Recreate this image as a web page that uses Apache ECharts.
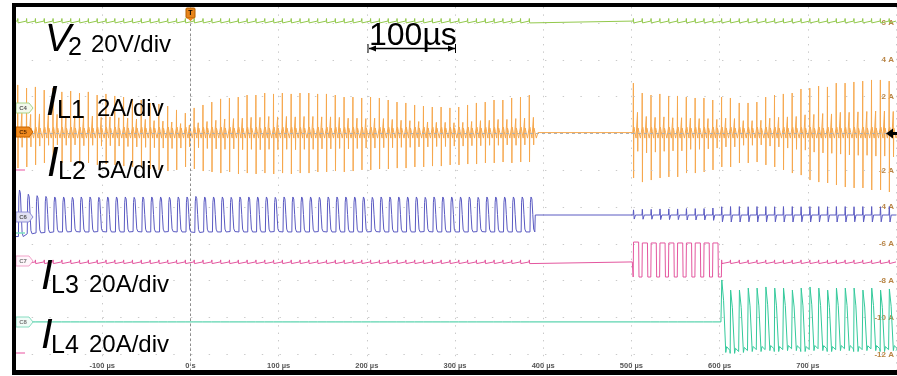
<!DOCTYPE html>
<html><head><meta charset="utf-8">
<script src="https://cdn.jsdelivr.net/npm/echarts@6/dist/echarts.min.js"></script>
<style>html,body{margin:0;padding:0;background:#fff}#c{width:897px;height:376px}</style>
</head><body><div id="c"></div>
<script>
// ---------------- data ----------------
const xTickValues = [-100, 0, 100, 200, 300, 400, 500, 600, 700];
const xTickLabels = ['-100 µs', '0 s', '100 µs', '200 µs', '300 µs', '400 µs', '500 µs', '600 µs', '700 µs'];
const yTickValues = [6, 4, 2, -2, -4, -6, -8, -10, -12];
const yTickLabels = ['6 A', '4 A', '2 A', '-2 A', '-4 A', '-6 A', '-8 A', '-10 A', '-12 A'];

const periodUs = 10;            // switching period
const burst1Start = -196;       // first switching cycle of burst 1 (µs)
const burst2Start = 502;        // first switching cycle of burst 2 (µs)
const il3Start = 502;           // IL3 pulses start
const il4Start = 602;           // IL4 sawtooth start

// trace offsets (in the scale of the displayed A axis)
const v2Level = 6.11;
const il2Level = -4.43;
const il3Level = -6.98;
const il4Level = -10.24;

// IL1 (orange) peak values per cycle
const il1Up1 = [2.64,2.47,2.53,2.36,2.47,2.26,2.31,2.20,2.26,2.09,2.15,2.04,1.98,1.88,1.82,1.66,1.60,1.49,1.28,1.11,
  1.39,1.55,1.71,1.88,1.93,1.98,2.09,2.09,2.20,2.15,2.20,2.15,2.20,2.20,2.15,2.15,2.09,1.98,1.98,1.93,
  1.98,1.93,1.82,1.71,1.66,1.55,1.49,1.44,1.44,1.39,1.44,1.55,1.66,1.71,1.82,1.82,1.93,1.98,2.09];
const il1Down1 = [-1.88,-1.82,-1.71,-1.60,-1.55,-1.60,-1.55,-1.66,-1.60,-1.71,-1.66,-1.71,-1.77,-1.82,-1.88,-1.93,-1.98,
  -2.04,-1.98,-1.82,-1.93,-2.04,-2.09,-2.15,-2.09,-2.20,-2.15,-2.20,-2.15,-2.20,-2.15,-2.20,
  -2.15,-2.15,-2.09,-2.09,-2.04,-2.09,-2.04,-1.98,-1.98,-1.93,-1.93,-1.88,-1.88,-1.82,-1.82,-1.77,-1.77,-1.71,
  -1.71,-1.66,-1.66,-1.60,-1.60,-1.55,-1.60,-1.55,-1.55];
const il1Up2 = [2.74,2.20,2.09,2.15,2.04,2.04,1.98,1.93,1.93,1.82,1.98,1.93,1.66,1.66,1.71,1.98,2.09,2.15,2.20,2.42,
  2.47,2.58,2.53,2.74,2.74,2.80,2.85,2.91,2.91,2.85];
const il1Down2 = [-2.42,-2.64,-2.53,-2.42,-2.36,-2.36,-2.15,-2.15,-2.09,-1.98,-1.82,-1.82,-1.60,-1.60,-1.55,-1.71,-1.82,
  -1.98,-2.15,-2.26,-2.53,-2.64,-2.69,-2.80,-2.91,-2.96,-2.96,-3.07,-3.07,-3.18];

// IL2 (blue) high / low per cycle in burst 1, ripple in burst 2
const il2High1 = [-3.07,-3.30,-3.38,-3.42,-3.45,-3.45,-3.47,-3.45,-3.45,-3.47,-3.45,-3.45,-3.45,-3.47,-3.45,-3.45,-3.45,-3.47,-3.45,-3.45,
  -3.42,-3.45,-3.45,-3.45,-3.47,-3.45,-3.45,-3.45,-3.45,-3.47,-3.45,-3.45,-3.45,-3.45,-3.47,-3.45,-3.45,-3.45,-3.45,-3.45,
  -3.47,-3.45,-3.45,-3.45,-3.45,-3.45,-3.47,-3.45,-3.45,-3.45,-3.45,-3.45,-3.47,-3.45,-3.45,-3.45,-3.45,-3.45,-3.45];
const il2Low1 = [-5.60,-5.45,-5.40,-5.38,-5.35,-5.35,-5.33,-5.35,-5.35,-5.33,-5.35,-5.35,-5.35,-5.33,-5.35,-5.35,-5.35,-5.33,-5.35,-5.35,
  -5.38,-5.35,-5.35,-5.35,-5.33,-5.35,-5.35,-5.35,-5.35,-5.33,-5.35,-5.35,-5.35,-5.35,-5.33,-5.35,-5.35,-5.35,-5.35,-5.35,
  -5.33,-5.35,-5.35,-5.35,-5.35,-5.35,-5.33,-5.35,-5.35,-5.35,-5.35,-5.35,-5.33,-5.35,-5.35,-5.35,-5.35,-5.35,-5.35];
const il2RipUp2 = [-4.15,-4.12,-4.12,-4.10,-4.10,-4.10,-4.08,-4.08,-4.08,-4.05,-3.98,-3.97,-3.97,-3.98,-3.97,-3.97,-3.98,-3.97,-3.97,-3.98,
  -3.97,-3.97,-3.98,-3.97,-3.97,-3.98,-3.97,-3.97,-3.98,-3.97];
const il2RipDn2 = [-4.65,-4.66,-4.66,-4.68,-4.68,-4.68,-4.70,-4.70,-4.70,-4.72,-4.80,-4.81,-4.81,-4.80,-4.81,-4.81,-4.80,-4.81,-4.81,-4.80,
  -4.81,-4.81,-4.80,-4.81,-4.81,-4.80,-4.81,-4.81,-4.80,-4.81];

// IL3 (pink) pulses
const il3High = [-5.90,-5.95,-5.95,-5.95,-5.95,-5.95,-5.95,-5.95,-5.95,-5.95];
const il3Low = [-7.80,-7.80,-7.80,-7.80,-7.80,-7.80,-7.80,-7.80,-7.80,-7.80];

// IL4 (teal) sawtooth
const il4High = [-7.96,-8.51,-8.51,-8.40,-8.40,-8.34,-8.40,-8.40,-8.51,-8.40,-8.34,-8.40,-8.51,-8.40,-8.40,-8.40,-8.51,-8.40,-8.51,-8.45];
const il4Low = [-11.90,-11.95,-11.90,-11.85,-11.85,-11.80,-11.85,-11.80,-11.80,-11.85,-11.80,-11.80,-11.85,-11.80,-11.80,-11.85,-11.80,-11.80,-11.85,-11.80];

// switching noise ticks on quiet traces [up, down]
const v2Tick = [0.14, -0.10];
const il3Tick = [0.11, -0.09];
const il4Tick = [0.09, -0.07];

// ---------------- building the traces ----------------
function cyclesIn(start, n) { const a = []; for (let k = 0; k < n; k++) a.push(start + k * periodUs); return a; }
const burst1Times = cyclesIn(burst1Start, il1Up1.length);
const burst2Times = cyclesIn(burst2Start, il1Up2.length);

function orangeCycle(out, t, u, d) {
  out.push([t, 0.3], [t + 0.25, u], [t + 0.5, d], [t + 0.8, 0.35], [t + 1.8, 0.1], [t + 3.3, -0.25], [t + 4.6, -0.35],
    [t + 4.9, 0.42 * u], [t + 5.2, 0.4 * d], [t + 5.5, 0.3], [t + 6.7, 0.05], [t + 8.2, -0.25], [t + 9.6, -0.35]);
}
function buildIL1() {
  const out = [[-200, -0.2]];
  burst1Times.forEach((t, k) => orangeCycle(out, t, il1Up1[k], il1Down1[k]));
  out.push([burst1Times[burst1Times.length - 1] + periodUs, 0.05], [burst2Start - 0.5, 0.05]);
  burst2Times.forEach((t, k) => orangeCycle(out, t, il1Up2[k], il1Down2[k]));
  out.push([800, 0]);
  return out;
}
function buildIL2() {
  const out = [[-200, il2Low1[0]]];
  burst1Times.forEach((t0, k) => {
    const t = t0 + 1, h = il2High1[k], l = il2Low1[k], a = h - l;
    out.push([t, l], [t + 0.5, l + 0.85 * a], [t + 1.2, h], [t + 2.2, h - 0.06 * a], [t + 3.2, l + 0.5 * a], [t + 4.2, l + 0.08 * a], [t + 5.5, l]);
  });
  const tEnd = burst1Times[burst1Times.length - 1] + 1 + 6;
  out.push([tEnd, il2Level]);
  burst2Times.forEach((t, k) => {
    out.push([t, il2Level], [t + 0.4, il2RipUp2[k]], [t + 1.2, il2RipDn2[k]], [t + 2.6, il2Level]);
  });
  out.push([800, il2Level]);
  return out;
}
function ticks(out, times, base, tick) {
  times.forEach(t => out.push([t, base], [t + 0.3, base + tick[0]], [t + 0.6, base + tick[1]], [t + 0.9, base]));
}
function buildV2() {
  const out = [[-200, v2Level]];
  ticks(out, burst1Times, v2Level, v2Tick);
  ticks(out, burst2Times, v2Level, v2Tick);
  out.push([800, v2Level]);
  return out;
}
function buildIL3() {
  const out = [[-200, il3Level]];
  ticks(out, burst1Times, il3Level, il3Tick);
  out.push([il3Start - 1, il3Level]);
  il3High.forEach((h, k) => {
    const t = il3Start + k * periodUs, l = il3Low[k];
    out.push([t, l], [t + 0.4, h], [t + 6.2, h], [t + 6.6, l]);
  });
  out.push([il3Start + il3High.length * periodUs, il3Low[il3Low.length - 1]], [il3Start + il3High.length * periodUs + 0.3, il3Level]);
  ticks(out, burst2Times.filter(t => t >= il4Start), il3Level, il3Tick);
  out.push([800, il3Level]);
  return out;
}
function buildIL4() {
  const out = [[-200, il4Level]];
  ticks(out, burst1Times, il4Level, il4Tick);
  ticks(out, burst2Times.filter(t => t < il4Start), il4Level, il4Tick);
  out.push([il4Start - 0.5, il4Level]);
  il4High.forEach((h, k) => {
    const t = il4Start + k * periodUs, l = il4Low[k], a = h - l;
    if (k > 0) out.push([t, l]);
    out.push([t + 0.5, h], [t + 2.5, h - 0.28 * a], [t + 5, l], [t + 6, l + 0.08 * a], [t + 9.6, l + 0.03 * a]);
  });
  out.push([800, il4Low[il4Low.length - 1]]);
  return out;
}

// ---------------- layout ----------------
const G = { left: 14, top: 7, width: 883, bottom: 371, zeroY: 133.5, pxPerA: 18.4 };
const yMax = (G.zeroY - G.top) / G.pxPerA;
const yMin = -(G.bottom - G.zeroY) / G.pxPerA;

const FONT = '"Liberation Sans", Arial, sans-serif';
function txt(x, y, s, size, italic, extra) {
  return Object.assign({ type: 'text', x: x, y: y, z: 50,
    style: { text: s, font: (italic ? 'italic ' : '') + size + 'px ' + FONT, fill: '#000',
      align: 'left', verticalAlign: 'middle', textAlign: 'left', textVerticalAlign: 'middle' } }, extra || {});
}
function badge(y, label, fill, stroke, color) {
  return [{ type: 'polygon', z: 40, shape: { points: [[16, y - 5], [29, y - 5], [33, y], [29, y + 5], [16, y + 5]] },
    style: { fill: fill, stroke: stroke, lineWidth: 1 } },
  { type: 'text', z: 41, x: 23, y: y, style: { text: label, font: 'bold 6px ' + FONT, fill: color,
    align: 'center', verticalAlign: 'middle', textAlign: 'center', textVerticalAlign: 'middle' } }];
}

const graphics = [
  // frame
  { type: 'rect', z: 100, shape: { x: 12, y: 3, width: 4, height: 372 }, style: { fill: '#000' } },
  { type: 'rect', z: 100, shape: { x: 12, y: 3, width: 885, height: 4 }, style: { fill: '#000' } },
  { type: 'rect', z: 100, shape: { x: 12, y: 370, width: 885, height: 5 }, style: { fill: '#000' } },
  // trigger marker
  { type: 'rect', z: 60, shape: { x: 186, y: 8, width: 9, height: 10, r: 1 }, style: { fill: '#e8841a', stroke: '#b35f00' } },
  { type: 'polygon', z: 60, shape: { points: [[187, 18], [194, 18], [190.5, 21]] }, style: { fill: '#e8841a' } },
  { type: 'text', z: 61, x: 190.5, y: 13, style: { text: 'T', font: 'bold 7px ' + FONT, fill: '#000', align: 'center', verticalAlign: 'middle', textAlign: 'center', textVerticalAlign: 'middle' } },
  // right ground arrow
  { type: 'polygon', z: 60, shape: { points: [[886, 133.5], [893, 128.5], [893, 138.5]] }, style: { fill: '#000' } },
  { type: 'rect', z: 60, shape: { x: 892, y: 132, width: 5, height: 3 }, style: { fill: '#000' } },
  // left level markers
  { type: 'line', z: 40, shape: { x1: 16, y1: 170, x2: 25, y2: 170 }, style: { stroke: '#f08cc0', lineWidth: 1.5 } },
  { type: 'line', z: 40, shape: { x1: 16, y1: 233, x2: 25, y2: 233 }, style: { stroke: '#7fe0c0', lineWidth: 1.5 } },
  { type: 'line', z: 40, shape: { x1: 16, y1: 353, x2: 25, y2: 353 }, style: { stroke: '#f08cc0', lineWidth: 1.5 } },
  // time-scale annotation
  txt(369, 36, '100µs', 32, false),
  { type: 'line', z: 50, shape: { x1: 369, y1: 48.5, x2: 455, y2: 48.5 }, style: { stroke: '#000', lineWidth: 1.5 } },
  { type: 'line', z: 50, shape: { x1: 368, y1: 44, x2: 368, y2: 53 }, style: { stroke: '#000', lineWidth: 1 } },
  { type: 'line', z: 50, shape: { x1: 455.5, y1: 44, x2: 455.5, y2: 53 }, style: { stroke: '#000', lineWidth: 1 } },
  { type: 'polygon', z: 50, shape: { points: [[369, 48.5], [376, 45.5], [376, 51.5]] }, style: { fill: '#000' } },
  { type: 'polygon', z: 50, shape: { points: [[455, 48.5], [448, 45.5], [448, 51.5]] }, style: { fill: '#000' } },
  // channel labels
  txt(45, 40, 'V', 39, true), txt(68, 48, '2', 25, false), txt(91, 45, '20V/div', 24, false),
  txt(46, 103, 'I', 42, true), txt(57, 111, 'L1', 25, false), txt(97, 109, '2A/div', 24, false),
  txt(47, 164, 'I', 42, true), txt(58, 172, 'L2', 25, false), txt(97, 171, '5A/div', 24, false),
  txt(41, 277, 'I', 42, true), txt(51, 286, 'L3', 25, false), txt(89, 285, '20A/div', 24, false),
  txt(41, 336, 'I', 42, true), txt(51, 346, 'L4', 25, false), txt(89, 345, '20A/div', 24, false),
].concat(
  badge(108, 'C4', '#f3f9ec', '#a9d38a', '#555'),
  badge(132, 'C5', '#f08a1e', '#c86400', '#5a2a00'),
  badge(217, 'C6', '#e2e2f4', '#8f8fd6', '#555'),
  badge(261, 'C7', '#fff6fb', '#f1a3c9', '#777'),
  badge(322, 'C8', '#f1fcf8', '#86dcc0', '#777')
);

const gridMarks = yTickValues.map(v => ({ yAxis: v, lineStyle: { color: '#c9c9c9', type: [1.4, 16.3], width: 1 } }));
gridMarks.push({ yAxis: 0, lineStyle: { color: '#b0b0b0', type: [3, 3], width: 1 } });
gridMarks.push({ xAxis: 0, lineStyle: { color: '#8c8c8c', type: [2.5, 2.5], width: 1 } });

function lineSeries(name, data, color, z) {
  return { name: name, type: 'line', data: data, showSymbol: false, symbol: 'none', z: z,
    lineStyle: { color: color, width: 1 }, silent: true, animation: false, progressive: 0 };
}

const chart = echarts.init(document.getElementById('c'), null, { renderer: 'canvas' });
const series = [
  { name: 'graticule', type: 'line', data: [], z: 1, silent: true, animation: false,
    markLine: { silent: true, symbol: 'none', animation: false, label: { show: false }, data: gridMarks } },
  lineSeries('V2', buildV2(), '#93c94c', 3),
  lineSeries('IL1', buildIL1(), '#f6a84e', 4),
  lineSeries('IL2', buildIL2(), '#5a5ac2', 5),
  lineSeries('IL3', buildIL3(), '#e4579f', 6),
  lineSeries('IL4', buildIL4(), '#34c99b', 7)
];

chart.setOption({
  animation: false,
  backgroundColor: '#fff',
  grid: { left: G.left, top: G.top, width: G.width, height: G.bottom - G.top, containLabel: false },
  xAxis: {
    type: 'value', min: -200, max: 800, interval: 100,
    axisLine: { show: false }, axisTick: { show: false },
    axisLabel: { inside: true, margin: 1, customValues: xTickValues,
      formatter: v => { const i = xTickValues.indexOf(v); return i < 0 ? '' : xTickLabels[i]; },
      fontSize: 7.5, fontWeight: 'bold', color: '#555', fontFamily: FONT },
    splitLine: { show: true, lineStyle: { color: '#c9c9c9', type: [1.4, 6], width: 1 } }
  },
  yAxis: {
    type: 'value', position: 'right', min: yMin, max: yMax,
    axisLine: { show: false }, axisTick: { show: false },
    axisLabel: { inside: true, margin: 2, customValues: yTickValues,
      formatter: v => { const i = yTickValues.indexOf(v); return i < 0 ? '' : yTickLabels[i]; },
      fontSize: 8, fontWeight: 'bold', color: '#b98444', fontFamily: FONT },
    splitLine: { show: false }
  },
  graphic: graphics,
  series: series
});
</script></body></html>
